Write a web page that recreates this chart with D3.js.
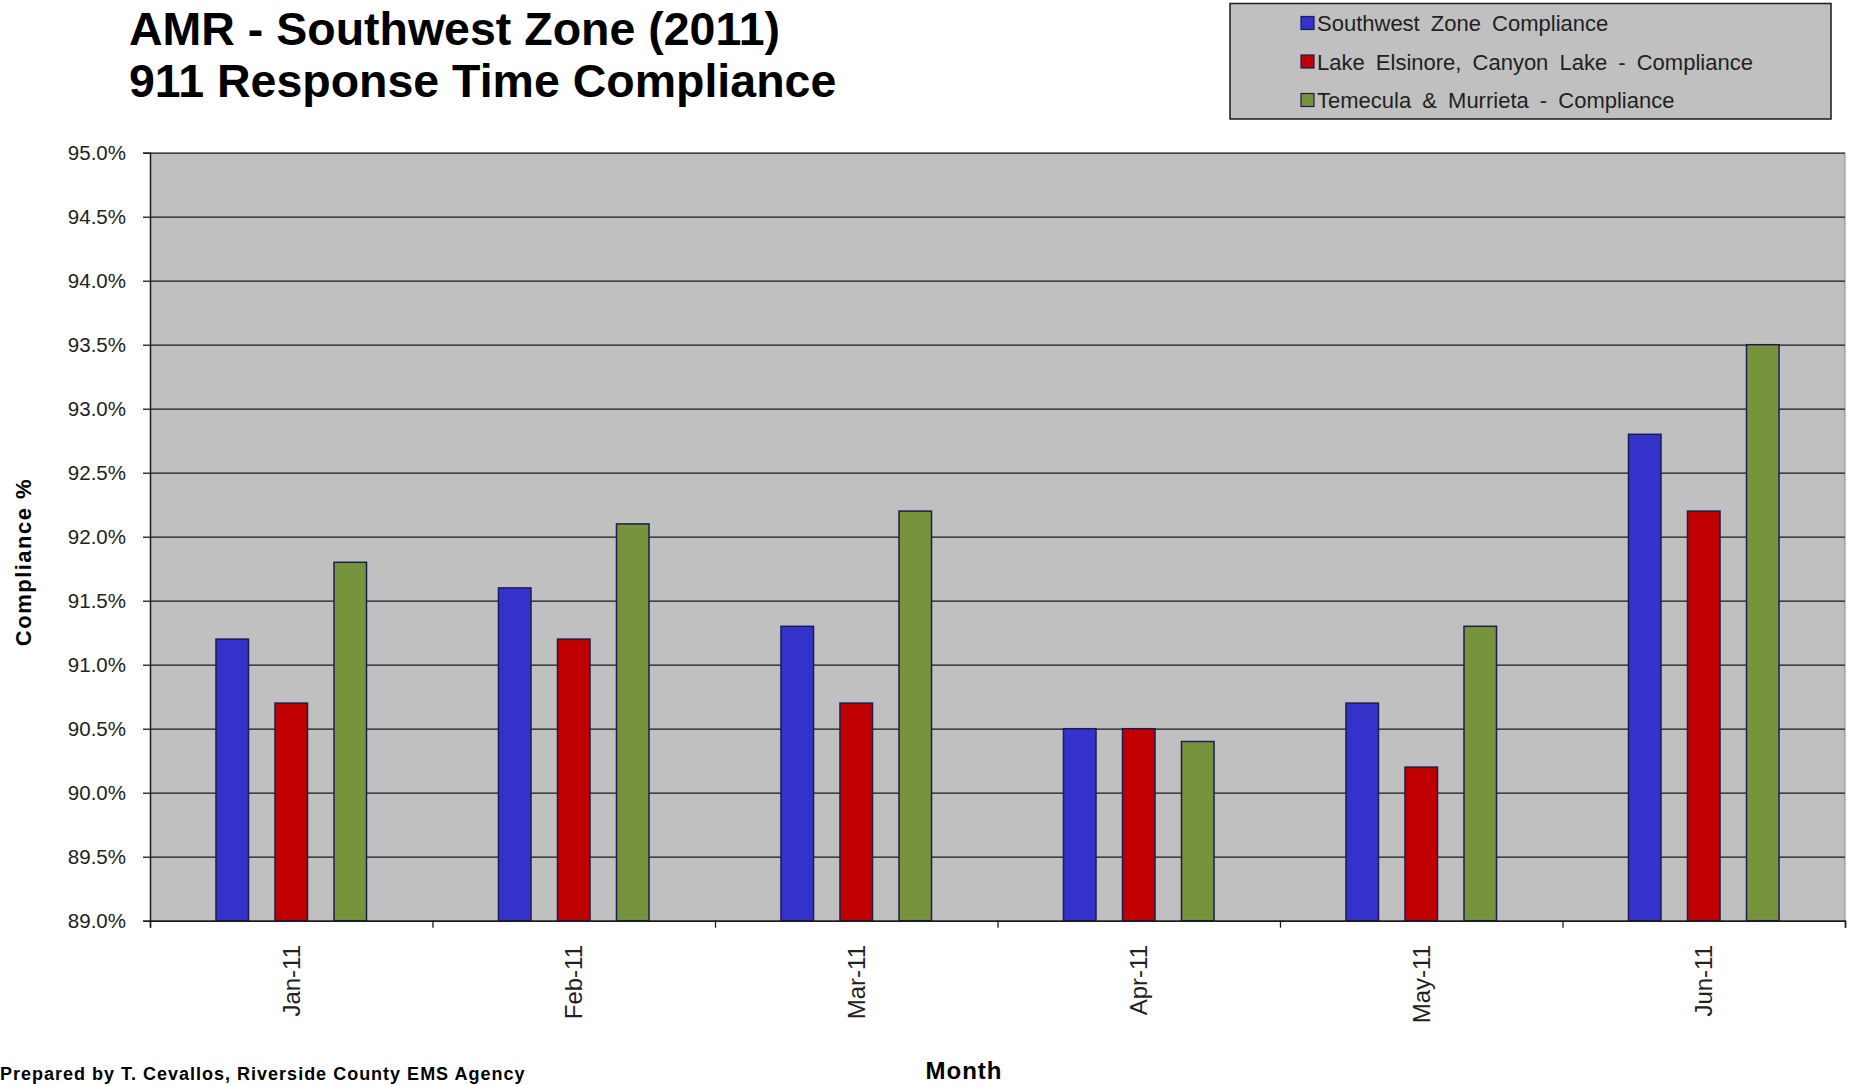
<!DOCTYPE html>
<html>
<head>
<meta charset="utf-8">
<script src="https://cdn.jsdelivr.net/npm/d3@7"></script>
<style>
    body { margin: 0; background: #fff; }
    text { font-family: Arial, "Liberation Sans", sans-serif; }
</style>
</head>
<body>
<div class="plot"></div>
<script>
const months = ["Jan-11", "Feb-11", "Mar-11", "Apr-11", "May-11", "Jun-11"];
const seriesNames = ["Southwest Zone Compliance", "Lake Elsinore, Canyon Lake - Compliance", "Temecula & Murrieta - Compliance"];
const southwest = [91.2, 91.6, 91.3, 90.5, 90.7, 92.8];
const lakeElsinore = [90.7, 91.2, 90.7, 90.5, 90.2, 92.2];
const temecula = [91.8, 92.1, 92.2, 90.4, 91.3, 93.5];
const yTicks = [89.0, 89.5, 90.0, 90.5, 91.0, 91.5, 92.0, 92.5, 93.0, 93.5, 94.0, 94.5, 95.0];
const colors = ["#3333cc", "#c00000", "#77933c"];

const width = 1853,
    height = 1085,
    plot = { left: 150, right: 1845, top: 152.7, bottom: 920.7 };

const data = months.map(function(m, i) {
    return { month: m, values: [southwest[i], lakeElsinore[i], temecula[i]] };
});

const svg = d3.select(".plot").append("svg")
    .attr("width", width)
    .attr("height", height);

const x0 = d3.scaleBand()
    .domain(months)
    .range([plot.left, plot.right])
    .padding(0);
const x1 = d3.scaleBand()
    .domain(d3.range(3))
    .range([0, x0.bandwidth()])
    .paddingInner(0.449)
    .paddingOuter(1.118);
const yScale = d3.scaleLinear()
    .domain([89, 95])
    .range([plot.bottom, plot.top]);

// plot background
svg.append("rect")
    .attr("x", plot.left)
    .attr("y", plot.top)
    .attr("width", plot.right - plot.left)
    .attr("height", plot.bottom - plot.top)
    .attr("fill", "#c0c0c0");
svg.append("line")
    .attr("x1", plot.right).attr("x2", plot.right)
    .attr("y1", plot.top).attr("y2", plot.bottom)
    .attr("stroke", "#8a8a8a");

// grid
const yGrid = d3.axisLeft(yScale).tickValues(yTicks).tickSize(-(plot.right - plot.left)).tickFormat("");
svg.append("g")
    .attr("transform", "translate(" + plot.left + ",0)")
    .call(yGrid)
    .call(function(g) { g.select(".domain").remove(); })
    .selectAll("line").attr("stroke", "#1a1a1a").attr("stroke-width", 1.3);

// bars
const groups = svg.append("g").selectAll("g").data(data).enter()
    .append("g")
    .attr("transform", function(d) { return "translate(" + x0(d.month) + ",0)"; });
groups.selectAll("rect")
    .data(function(d) { return d.values; })
    .enter()
    .append("rect")
    .attr("x", function(d, i) { return x1(i); })
    .attr("y", function(d) { return yScale(d); })
    .attr("width", x1.bandwidth())
    .attr("height", function(d) { return plot.bottom - yScale(d); })
    .attr("fill", function(d, i) { return colors[i]; })
    .attr("stroke", "#1c1c50")
    .attr("stroke-width", 1.5);

// y axis
const yAxis = d3.axisLeft(yScale).tickValues(yTicks).tickSize(7).tickPadding(17)
    .tickFormat(function(d) { return d3.format(".1f")(d) + "%"; });
svg.append("g")
    .attr("transform", "translate(" + plot.left + ",0)")
    .call(yAxis)
    .call(function(g) {
        g.select(".domain").attr("stroke", "#1a1a1a").attr("stroke-width", 1.5);
        g.selectAll("line").attr("stroke", "#1a1a1a").attr("stroke-width", 1.3);
        g.selectAll("text").attr("font-size", 20.5).attr("fill", "#222")
            .attr("font-family", "Arial, 'Liberation Sans', sans-serif");
    });

// x axis
const xBounds = months.map(function(m) { return x0(m); }).concat([plot.right]);
const xAxis = d3.axisBottom(d3.scaleLinear().domain([plot.left, plot.right]).range([plot.left, plot.right]))
    .tickValues(xBounds).tickSize(7).tickFormat("");
svg.append("g")
    .attr("transform", "translate(0," + plot.bottom + ")")
    .call(xAxis)
    .call(function(g) {
        g.select(".domain").attr("stroke", "#1a1a1a").attr("stroke-width", 1.5);
        g.selectAll("line").attr("stroke", "#1a1a1a").attr("stroke-width", 1.3);
    });

svg.append("g").selectAll("text").data(months).enter()
    .append("text")
    .attr("transform", function(d) {
        return "translate(" + (x0(d) + x0.bandwidth() / 2) + ",945) rotate(-90)";
    })
    .attr("text-anchor", "end")
    .attr("dy", "0.35em")
    .attr("font-size", 24)
    .attr("fill", "#222")
    .text(function(d) { return d; });

// titles
svg.append("text")
    .attr("x", 129).attr("y", 45)
    .attr("font-size", 46.5).attr("font-weight", "bold")
    .text("AMR - Southwest Zone (2011)");
svg.append("text")
    .attr("x", 129).attr("y", 97)
    .attr("font-size", 46.5).attr("font-weight", "bold")
    .text("911 Response Time Compliance");

// axis labels
svg.append("text")
    .attr("transform", "translate(31,562) rotate(-90)")
    .attr("text-anchor", "middle")
    .attr("font-size", 22).attr("font-weight", "bold")
    .attr("letter-spacing", 1.5)
    .text("Compliance %");
svg.append("text")
    .attr("x", 964).attr("y", 1079)
    .attr("text-anchor", "middle")
    .attr("font-size", 24).attr("font-weight", "bold")
    .attr("letter-spacing", 1)
    .text("Month");

// footnote at the bottom edge
svg.append("text")
    .attr("x", 0).attr("y", 1080)
    .attr("font-size", 18).attr("font-weight", "bold")
    .attr("letter-spacing", 1)
    .text("Prepared by T. Cevallos, Riverside County EMS Agency");

// legend
const legend = svg.append("g");
legend.append("rect")
    .attr("x", 1230).attr("y", 3.5)
    .attr("width", 601).attr("height", 115.5)
    .attr("fill", "#c0c0c0")
    .attr("stroke", "#1a1a1a").attr("stroke-width", 1.5);
const items = legend.selectAll("g.item").data(seriesNames).enter()
    .append("g").attr("class", "item")
    .attr("transform", function(d, i) { return "translate(1301," + (23 + i * 38.5) + ")"; });
items.append("rect")
    .attr("x", 0).attr("y", -6.5)
    .attr("width", 13).attr("height", 13)
    .attr("fill", function(d, i) { return colors[i]; })
    .attr("stroke", "#1c1c50").attr("stroke-width", 1.2);
items.append("text")
    .attr("x", 16).attr("y", 8)
    .attr("font-size", 22)
    .attr("word-spacing", 5)
    .attr("fill", "#222")
    .text(function(d) { return d; });
</script>
</body>
</html>
